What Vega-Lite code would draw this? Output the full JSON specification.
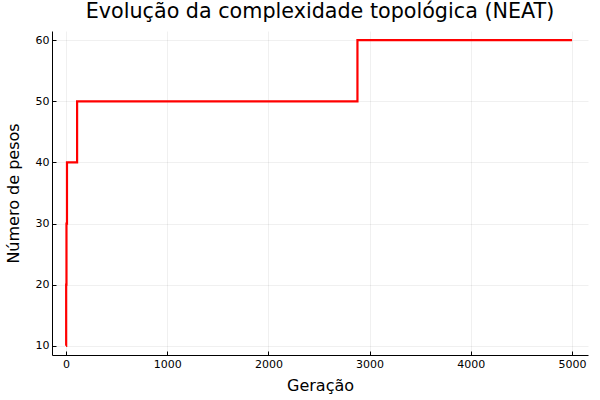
{
  "$schema": "https://vega.github.io/schema/vega-lite/v6.json",
  "autosize": "none",
  "width": 536,
  "height": 324,
  "padding": {"left": 52, "top": 31, "right": 12, "bottom": 45},
  "background": "white",
  "title": {"text": "Evolução da complexidade topológica (NEAT)", "font": "DejaVu Sans", "fontSize": 20.7, "fontWeight": "normal", "color": "black", "anchor": "middle", "offset": 8},
  "config": {"view": {"stroke": null}},
  "data": {"values": [
    {"g": 1, "w": 10},
    {"g": 2, "w": 20},
    {"g": 5, "w": 30},
    {"g": 10, "w": 40},
    {"g": 110, "w": 50},
    {"g": 2880, "w": 60},
    {"g": 5000, "w": 60}
  ]},
  "mark": {"type": "line", "interpolate": "step-after", "color": "#ff0000", "strokeWidth": 2.2, "clip": true},
  "encoding": {
    "x": {"field": "g", "type": "quantitative", "title": "Geração",
      "scale": {"domain": [-138, 5158], "nice": false, "zero": false},
      "axis": {"values": [0, 1000, 2000, 3000, 4000, 5000], "format": "d", "grid": true, "gridColor": "#000000", "gridOpacity": 0.06, "domainColor": "black", "domainWidth": 1, "tickColor": "black", "tickSize": -4, "labelPadding": 7, "labelFont": "DejaVu Sans", "labelFontSize": 11, "labelColor": "black", "titleFont": "DejaVu Sans", "titleFontSize": 16, "titleFontWeight": "normal", "titleColor": "black", "titlePadding": 8, "labelFlush": false}},
    "y": {"field": "w", "type": "quantitative", "title": "Número de pesos",
      "scale": {"domain": [8.5, 61.5], "nice": false, "zero": false},
      "axis": {"values": [10, 20, 30, 40, 50, 60], "grid": true, "gridColor": "#000000", "gridOpacity": 0.06, "domainColor": "black", "domainWidth": 1, "tickColor": "black", "tickSize": -4, "labelPadding": 7, "labelFont": "DejaVu Sans", "labelFontSize": 11, "labelColor": "black", "titleFont": "DejaVu Sans", "titleFontSize": 16, "titleFontWeight": "normal", "titleColor": "black", "titlePadding": 14}}
  }
}
